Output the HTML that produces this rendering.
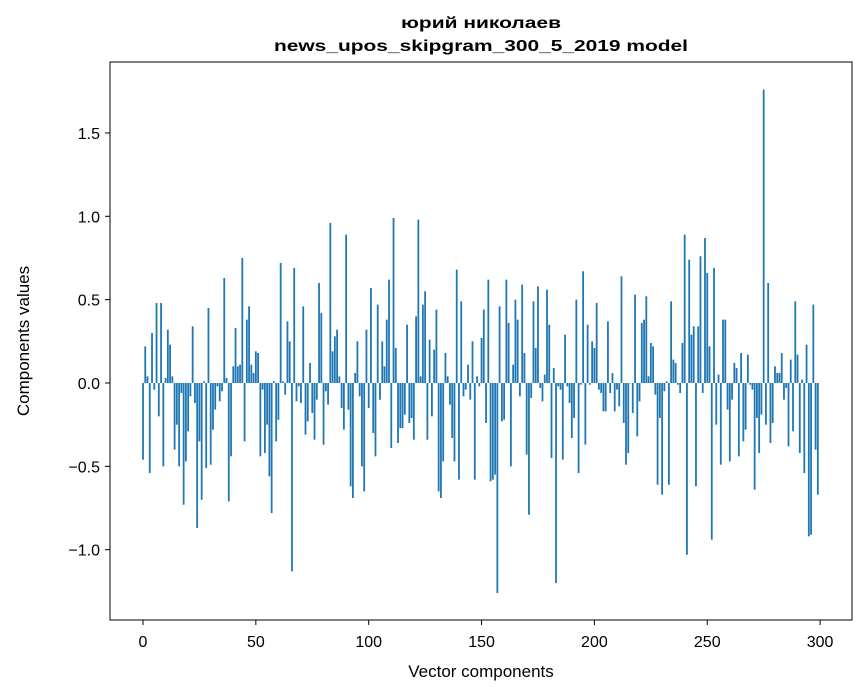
<!DOCTYPE html>
<html><head><meta charset="utf-8"><style>
body{margin:0;background:#fff}
svg{display:block;font-family:"Liberation Sans","Noto Sans CJK SC",sans-serif}
</style></head><body>
<svg id="chart" width="867" height="696" viewBox="0 0 867 696">
<text x="481" y="28" text-anchor="middle" font-size="16" font-weight="bold" textLength="160" lengthAdjust="spacingAndGlyphs">юрий николаев</text>
<text x="481" y="51" text-anchor="middle" font-size="16" font-weight="bold" textLength="414" lengthAdjust="spacingAndGlyphs">news_upos_skipgram_300_5_2019 model</text>
<g id="bars"></g>
<rect x="110" y="62" width="742" height="558" fill="none" stroke="#000" stroke-width="1"/>
<g id="yticks"></g>
<g id="xticks"></g>
<text x="481" y="677" text-anchor="middle" font-size="17">Vector components</text>
<text transform="translate(29,341) rotate(-90)" text-anchor="middle" font-size="17">Components values</text>
</svg>
<script>
const values = [
-0.46,0.22,0.04,-0.54,0.30,-0.04,0.48,-0.2,0.48,-0.5,
0.03,0.32,0.23,0.04,-0.4,-0.25,-0.5,-0.06,-0.73,-0.47,
-0.29,-0.08,0.34,-0.12,-0.87,-0.35,-0.7,0.01,-0.51,0.45,
-0.49,-0.28,-0.16,-0.02,-0.11,-0.05,0.63,0.03,-0.71,-0.44,
0.1,0.33,0.1,0.11,0.75,-0.35,0.38,0.46,0.11,0.06,
0.19,0.18,-0.44,-0.04,-0.42,-0.25,-0.56,-0.78,0.01,-0.35,
-0.22,0.72,0.01,-0.07,0.37,0.25,-1.13,0.69,-0.11,-0.02,
-0.12,0.46,-0.31,-0.23,0.12,-0.18,-0.34,-0.1,0.6,0.42,
-0.37,-0.05,-0.13,0.96,0.19,0.28,0.32,0.04,-0.15,-0.28,
0.89,-0.16,-0.62,-0.69,0.06,0.25,-0.08,-0.5,-0.65,0.32,
-0.15,0.57,-0.3,-0.44,0.47,-0.1,0.25,0.1,0.38,0.62,
-0.39,0.99,0.21,-0.36,-0.27,-0.27,-0.19,0.35,-0.24,-0.21,
-0.34,0.4,0.98,0.04,0.47,0.55,-0.34,0.26,-0.2,0.2,
0.44,-0.65,-0.69,-0.47,0.18,0.04,-0.13,-0.33,-0.47,0.68,
-0.58,0.49,-0.08,-0.04,0.11,-0.1,0.25,-0.58,0.04,-0.02,
0.27,0.44,-0.24,0.62,-0.59,-0.58,-0.55,-1.26,0.46,-0.23,
-0.22,0.62,0.36,-0.5,0.11,0.5,0.38,-0.08,0.59,0.18,
-0.43,-0.79,-0.09,0.49,0.21,0.58,-0.03,-0.11,0.05,0.56,
0.35,-0.45,0.09,-1.2,-0.02,-0.04,-0.46,0.29,-0.02,-0.12,
-0.33,-0.21,0.5,-0.54,-0.01,0.67,-0.37,0.35,-0.01,0.25,
0.21,0.48,-0.04,-0.06,-0.17,-0.17,0.37,-0.06,0.06,-0.17,
-0.04,-0.14,0.64,-0.24,-0.49,-0.42,0.0,-0.18,0.53,-0.32,
-0.11,0.36,0.38,0.52,0.04,0.24,0.22,-0.07,-0.61,-0.21,
-0.67,-0.05,0.01,-0.61,0.49,0.14,0.12,-0.01,-0.06,0.24,
0.89,-1.03,0.74,0.29,0.34,-0.62,0.34,0.76,-0.06,0.87,
0.66,0.22,-0.94,0.69,-0.25,0.05,-0.49,0.38,0.38,-0.16,
-0.47,-0.1,0.12,0.09,-0.44,0.18,-0.35,-0.28,0.17,-0.01,
-0.04,-0.64,-0.21,-0.42,-0.19,1.76,-0.25,0.6,-0.36,-0.24,
0.1,0.06,0.06,0.18,-0.1,-0.03,-0.38,0.14,-0.29,0.49,
0.17,-0.42,0.02,-0.54,0.23,-0.92,-0.91,0.47,-0.4,-0.67
];
const yTicks = [-1.0,-0.5,0.0,0.5,1.0,1.5];
const yTickLabels = ["\u22121.0","\u22120.5","0.0","0.5","1.0","1.5"];
const xTicks = [0,50,100,150,200,250,300];

const NS = "http://www.w3.org/2000/svg";
const xs = i => 143 + 2.257 * i;
const ys = v => 383 - 166.7 * v;
const bars = document.getElementById('bars');
values.forEach((v, i) => {
  const r = document.createElementNS(NS, 'rect');
  const y0 = ys(0), y1 = ys(v);
  r.setAttribute('x', xs(i) - 0.9);
  r.setAttribute('width', 1.8);
  r.setAttribute('y', Math.min(y0, y1));
  r.setAttribute('height', Math.max(Math.abs(y1 - y0), 0.3));
  r.setAttribute('fill', '#1f77b4');
  
  
  bars.appendChild(r);
});
const yg = document.getElementById('yticks');
yTicks.forEach((t, k) => {
  const y = ys(t);
  const l = document.createElementNS(NS, 'line');
  l.setAttribute('x1', 105); l.setAttribute('x2', 110);
  l.setAttribute('y1', y); l.setAttribute('y2', y);
  l.setAttribute('stroke', '#000');
  
  
  yg.appendChild(l);
  const tx = document.createElementNS(NS, 'text');
  tx.setAttribute('x', 100); tx.setAttribute('y', y + 6);
  tx.setAttribute('text-anchor', 'end'); tx.setAttribute('font-size', '16');
  tx.textContent = yTickLabels[k];
  
  
  yg.appendChild(tx);
});
const xg = document.getElementById('xticks');
xTicks.forEach(t => {
  const x = xs(t);
  const l = document.createElementNS(NS, 'line');
  l.setAttribute('x1', x); l.setAttribute('x2', x);
  l.setAttribute('y1', 620); l.setAttribute('y2', 625);
  l.setAttribute('stroke', '#000');
  
  
  xg.appendChild(l);
  const tx = document.createElementNS(NS, 'text');
  tx.setAttribute('x', x); tx.setAttribute('y', 647);
  tx.setAttribute('text-anchor', 'middle'); tx.setAttribute('font-size', '16');
  tx.textContent = t;
  
  
  xg.appendChild(tx);
});
</script>
</body></html>
